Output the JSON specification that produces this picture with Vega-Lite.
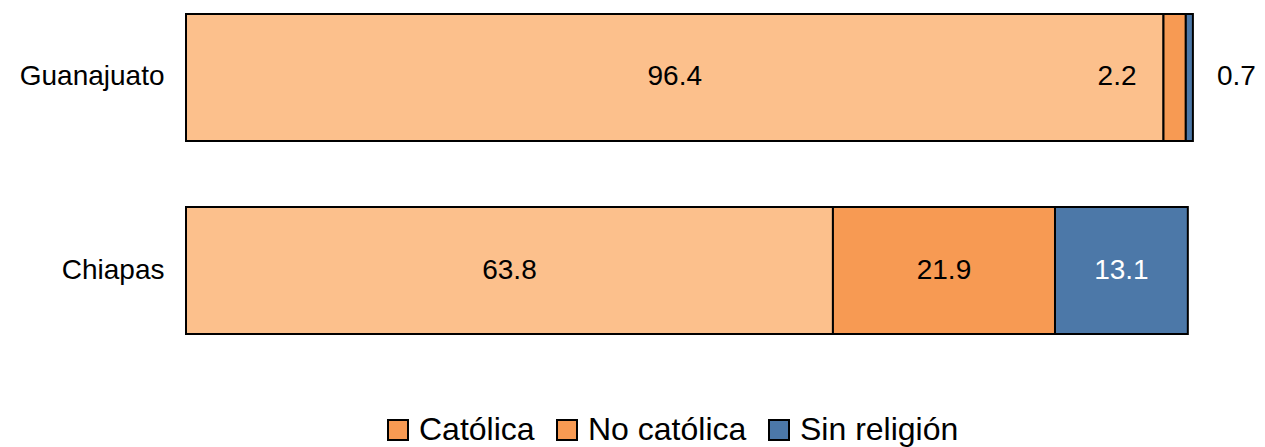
{
  "$schema": "https://vega.github.io/schema/vega-lite/v6.json",
  "autosize": {"type": "none"},
  "padding": {"left": 186, "top": 0, "right": 65, "bottom": 99},
  "width": 1014,
  "height": 348,
  "background": "white",
  "config": {"view": {"stroke": null}, "font": "Liberation Sans"},
  "data": {"values": [
    {"estado": "Guanajuato", "tipo": "Católica", "valor": 96.4},
    {"estado": "Guanajuato", "tipo": "No católica", "valor": 2.2},
    {"estado": "Guanajuato", "tipo": "Sin religión", "valor": 0.7},
    {"estado": "Chiapas", "tipo": "Católica", "valor": 63.8},
    {"estado": "Chiapas", "tipo": "No católica", "valor": 21.9},
    {"estado": "Chiapas", "tipo": "Sin religión", "valor": 13.1}
  ]},
  "transform": [
    {"stack": "valor", "groupby": ["estado"], "sort": [{"field": "tipo", "order": "ascending"}], "as": ["x0", "x1"]},
    {"calculate": "(datum.x0 + datum.x1) / 2", "as": "xm"}
  ],
  "encoding": {
    "y": {
      "field": "estado", "type": "nominal", "sort": ["Guanajuato", "Chiapas"],
      "scale": {"paddingInner": 0.342, "paddingOuter": 0.0725},
      "axis": {"title": null, "domain": false, "ticks": false, "labelFontSize": 28, "labelColor": "black", "labelPadding": 22, "labelFont": "Liberation Sans"}
    }
  },
  "layer": [
    {
      "mark": {"type": "bar", "stroke": "black", "strokeWidth": 2},
      "encoding": {
        "x": {"field": "x0", "type": "quantitative", "scale": {"domain": [0, 100]}, "axis": null},
        "x2": {"field": "x1"},
        "fill": {
          "condition": {"test": "datum.tipo === 'Católica'", "value": "#FCC08C"},
          "field": "tipo", "type": "nominal",
          "scale": {"domain": ["Católica", "No católica", "Sin religión"], "range": ["#F79A53", "#F79A53", "#4C78A8"]},
          "legend": {
            "orient": "none", "legendX": 196, "legendY": 414, "direction": "horizontal", "title": null,
            "symbolType": "square", "symbolSize": 400, "symbolStrokeColor": "black", "symbolStrokeWidth": 2,
            "symbolOpacity": 1, "labelFontSize": 32, "labelColor": "black", "labelFont": "Liberation Sans",
            "columnPadding": 16, "labelOffset": 5, "labelLimit": 400
          }
        }
      }
    },
    {
      "transform": [{"filter": "!(datum.estado === 'Guanajuato' && datum.tipo !== 'Católica')"}],
      "mark": {"type": "text", "fontSize": 28, "font": "Liberation Sans", "baseline": "middle", "align": "center"},
      "encoding": {
        "x": {"field": "xm", "type": "quantitative"},
        "text": {"field": "valor", "type": "quantitative", "format": ".1f"},
        "color": {"condition": {"test": "datum.tipo === 'Sin religión'", "value": "white"}, "value": "black"}
      }
    },
    {
      "transform": [{"filter": "datum.estado === 'Guanajuato' && datum.tipo === 'No católica'"}],
      "mark": {"type": "text", "fontSize": 28, "font": "Liberation Sans", "baseline": "middle", "align": "right", "dx": -27, "color": "black"},
      "encoding": {
        "x": {"field": "x0", "type": "quantitative"},
        "text": {"field": "valor", "type": "quantitative", "format": ".1f"}
      }
    },
    {
      "transform": [{"filter": "datum.estado === 'Guanajuato' && datum.tipo === 'Sin religión'"}],
      "mark": {"type": "text", "fontSize": 28, "font": "Liberation Sans", "baseline": "middle", "align": "left", "dx": 24, "color": "black"},
      "encoding": {
        "x": {"field": "x1", "type": "quantitative"},
        "text": {"field": "valor", "type": "quantitative", "format": ".1f"}
      }
    }
  ]
}
